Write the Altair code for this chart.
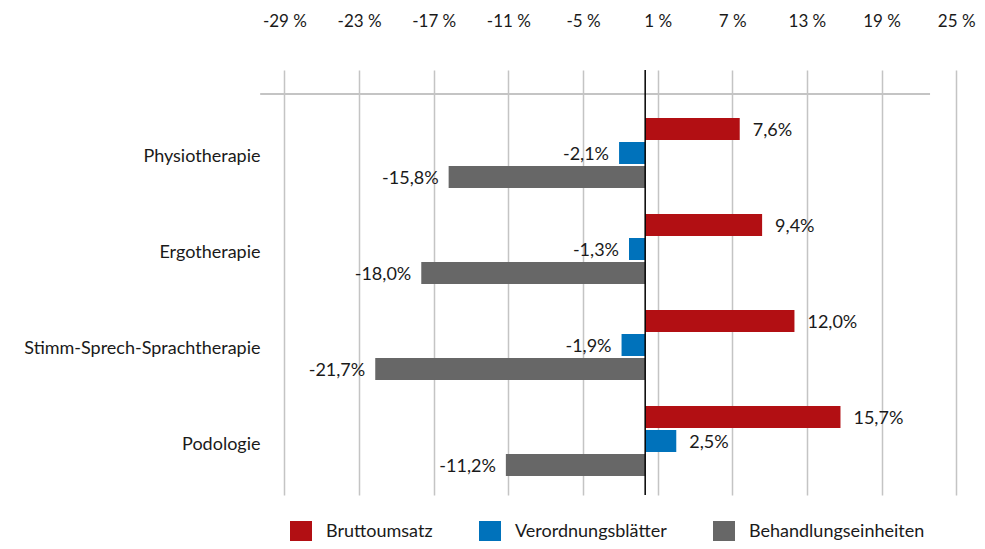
import altair as alt
import pandas as pd

categories = ["Physiotherapie", "Ergotherapie", "Stimm-Sprech-Sprachtherapie", "Podologie"]
series = ["Bruttoumsatz", "Verordnungsblätter", "Behandlungseinheiten"]
bruttoumsatz = [7.6, 9.4, 12.0, 15.7]
verordnungsblaetter = [-2.1, -1.3, -1.9, 2.5]
behandlungseinheiten = [-15.8, -18.0, -21.7, -11.2]
tick_values = [-29, -23, -17, -11, -5, 1, 7, 13, 19, 25]
colors = ["#B20F13", "#0072BB", "#676767"]

FONT = "Lato, Roboto, sans-serif"
TXT = "#1a1a1a"

rows = []
for s, vals in zip(series, [bruttoumsatz, verordnungsblaetter, behandlungseinheiten]):
    for c, v in zip(categories, vals):
        rows.append({"Kategorie": c, "Reihe": s, "Wert": v,
                     "Label": f"{v:.1f}%".replace(".", ",")})
df = pd.DataFrame(rows)

x_scale = alt.Scale(domain=[-30, 25.63], nice=False, zero=False)
y_enc = alt.Y("Kategorie:N", sort=categories,
              scale=alt.Scale(paddingInner=0, paddingOuter=0.2135, align=0.854),
              axis=alt.Axis(title=None, domain=False, ticks=False, labelPadding=12,
                            labelFontSize=18, labelFont=FONT, labelColor=TXT,
                            labelLimit=400, labelOffset=4))
yoff_enc = alt.YOffset("Reihe:N", sort=series,
                       scale=alt.Scale(paddingInner=0.0833, paddingOuter=0.5417))

base = alt.Chart(df)

bars = base.mark_bar().transform_calculate(null="0").encode(
    x=alt.X("Wert:Q", scale=x_scale,
            axis=alt.Axis(orient="top", values=tick_values, labelExpr="datum.value + ' %'",
                          grid=True, gridColor="#c4c4c4", gridWidth=1.5, domain=False,
                          ticks=False, labelPadding=40, labelFlush=False, labelOverlap=False,
                          title=None, labelFontSize=17, labelFont=FONT, labelColor=TXT)),
    x2="null:Q",
    y=y_enc,
    yOffset=yoff_enc,
    color=alt.Color("Reihe:N", sort=series,
                    scale=alt.Scale(domain=series, range=colors),
                    legend=alt.Legend(title=None, orient="none", legendX=18, legendY=451,
                                      direction="horizontal", symbolType="square",
                                      symbolSize=484, symbolStrokeWidth=0, labelFontSize=18,
                                      labelFont=FONT, labelColor=TXT, labelOffset=14,
                                      labelLimit=400, columnPadding=46)),
)

pos_text = base.transform_filter("datum.Wert > 0").mark_text(
    align="left", baseline="middle", dx=13, dy=2, fontSize=18, font=FONT, color=TXT
).encode(x=alt.X("Wert:Q", scale=x_scale), y=y_enc, yOffset=yoff_enc, text="Label:N")

neg_text = base.transform_filter("datum.Wert < 0").mark_text(
    align="right", baseline="middle", dx=-10, dy=2, fontSize=18, font=FONT, color=TXT
).encode(x=alt.X("Wert:Q", scale=x_scale), y=y_enc, yOffset=yoff_enc, text="Label:N")

line_start = [-30.95]
line_end = [22.9]
top_line = alt.Chart(pd.DataFrame({"a": line_start, "b": line_end})).mark_rule(
    color="#c4c4c4", strokeWidth=2
).encode(x=alt.X("a:Q", scale=x_scale), x2="b:Q", y=alt.value(24))

zero_line = alt.Chart(pd.DataFrame({"z": [0]})).mark_rule(
    color="#000000", strokeWidth=1.5
).encode(x=alt.X("z:Q", scale=x_scale))

chart = alt.layer(bars, top_line, zero_line, pos_text, neg_text).properties(
    width=692, height=425,
    autosize=alt.AutoSizeParams(type="none"),
    padding={"left": 264, "top": 62, "right": 13, "bottom": 46},
).configure_view(stroke=None).configure_axis(grid=False).configure_axisX(grid=True)

chart.save("out.html", embed_options={"renderer": "svg", "actions": False})
